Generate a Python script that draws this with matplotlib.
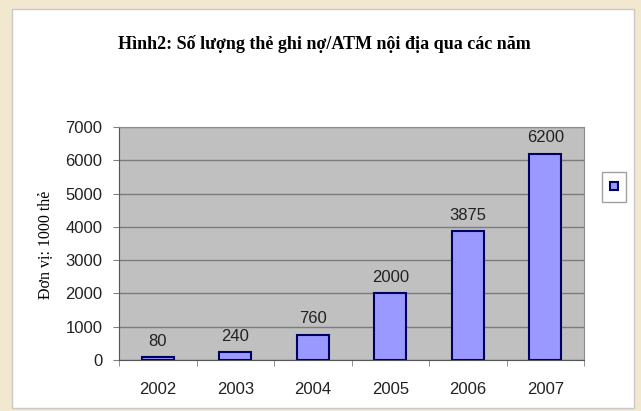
import matplotlib.pyplot as plt
from matplotlib.patches import Patch, Rectangle

# data
years = ['2002', '2003', '2004', '2005', '2006', '2007']
cards = [80, 240, 760, 2000, 3875, 6200]
y_ticks = [0, 1000, 2000, 3000, 4000, 5000, 6000, 7000]

title = 'Hình2: Số lượng thẻ ghi nợ/ATM nội địa qua các năm'
y_label = 'Đơn vị: 1000 thẻ'

fig = plt.figure(figsize=(6.41, 4.11), dpi=100)
fig.patch.set_facecolor('#F2E8D0')

# white chart area
fig.patches.append(Rectangle((12 / 641, 3 / 411), 622 / 641, 399 / 411,
                             transform=fig.transFigure, facecolor='white',
                             edgecolor='#C8C8C8', linewidth=1.0, zorder=-5))

ax = fig.add_axes([119 / 641, 51 / 411, 465 / 641, 233 / 411])
ax.set_facecolor('#C0C0C0')

x = range(len(years))
bars = ax.bar(x, cards, width=0.41, color='#9999FF', edgecolor='#000060',
              linewidth=1.5, zorder=3)
ax.bar_label(bars, labels=[str(v) for v in cards], padding=6,
             fontsize=12, family='Liberation Sans', color='#222222')

ax.set_xlim(-0.5, len(years) - 0.5)
ax.set_ylim(0, 7000)
ax.set_yticks(y_ticks)
ax.yaxis.grid(True, color='#7C7C7C', linewidth=1.0, zorder=1)
ax.set_axisbelow(True)

ax.set_xticks(list(x))
ax.set_xticklabels(years)
ax.set_xticks([i - 0.5 for i in range(len(years) + 1)], minor=True)
ax.tick_params(axis='x', which='major', length=0, pad=16)
ax.tick_params(axis='x', which='minor', length=4, color='#808080', direction='out')
ax.tick_params(axis='y', length=4, color='#808080', direction='out', pad=8)
for lab in ax.get_xticklabels() + ax.get_yticklabels():
    lab.set_family('Liberation Sans')
    lab.set_fontsize(12)
    lab.set_color('#222222')

for side in ['top', 'right']:
    ax.spines[side].set_color('#8C8C8C')
for side in ['left', 'bottom']:
    ax.spines[side].set_color('#555555')

fig.text(324 / 641, 1 - 44 / 411, title, ha='center', va='center',
         family='Liberation Serif', fontweight='bold', fontsize=13)
fig.text(45 / 641, 1 - 245 / 411, y_label, ha='center', va='center',
         rotation=90, family='Liberation Serif', fontsize=11.5)

# legend with a single unlabeled entry
fig.legend(handles=[Patch(facecolor='#9999FF', edgecolor='#000060', linewidth=1.5)],
           labels=[''], loc='center', bbox_to_anchor=(614 / 641, 1 - 187 / 411),
           handlelength=0.55, handleheight=0.55, handletextpad=0, borderpad=0.6,
           fancybox=False, edgecolor='#A0A0A0', framealpha=1)

fig.savefig('out.png', dpi=100, facecolor=fig.get_facecolor())
